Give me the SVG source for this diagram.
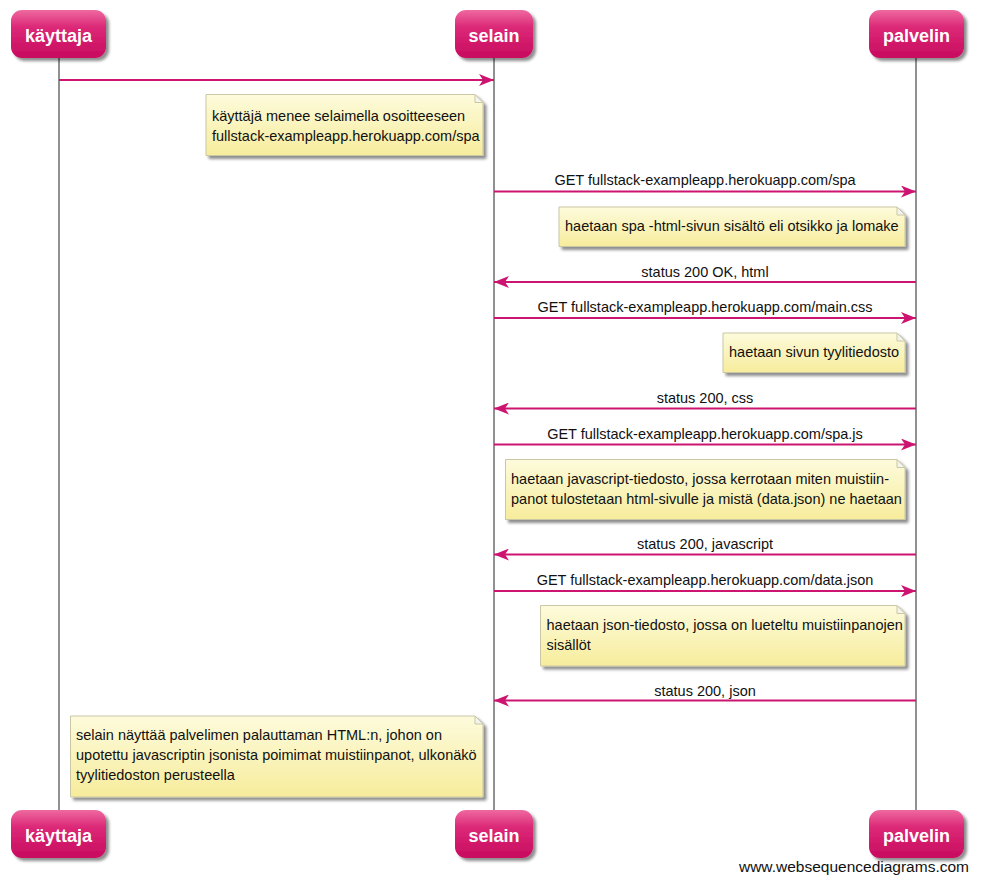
<svg xmlns="http://www.w3.org/2000/svg" width="985" height="896" viewBox="0 0 985 896">
<defs>
<linearGradient id="actorGrad" x1="0" y1="0" x2="0" y2="1">
<stop offset="0" stop-color="#ee6aa0"/>
<stop offset="0.35" stop-color="#dc2a78"/>
<stop offset="1" stop-color="#c80a5e"/>
</linearGradient>
<linearGradient id="noteGrad" x1="0" y1="0" x2="0" y2="1">
<stop offset="0" stop-color="#fdfbdc"/>
<stop offset="1" stop-color="#f7ec9c"/>
</linearGradient>
<filter id="shadow" x="-10%" y="-10%" width="130%" height="140%">
<feGaussianBlur in="SourceAlpha" stdDeviation="1.5"/>
<feOffset dx="3" dy="3" result="b"/>
<feComponentTransfer><feFuncA type="linear" slope="0.45"/></feComponentTransfer>
<feMerge><feMergeNode/><feMergeNode in="SourceGraphic"/></feMerge>
</filter>
<marker id="arrow" viewBox="0 0 15 12" refX="15" refY="6" markerWidth="15" markerHeight="12" markerUnits="userSpaceOnUse" orient="auto">
<path d="M0,0 L15,6 L0,12 L4,6 Z" fill="#cc1470"/>
</marker>
</defs>
<style>
.life{stroke:#222;stroke-width:1;fill:none}
.actor{fill:url(#actorGrad);filter:url(#shadow)}
.atext{font-family:"Liberation Sans",Arial,sans-serif;font-weight:bold;font-size:18px;fill:#fff;text-anchor:middle}
.msg{stroke:#cc1470;stroke-width:2;fill:none;marker-end:url(#arrow)}
.lbl{font-family:"Liberation Sans",Arial,sans-serif;font-size:14.5px;fill:#111;text-anchor:middle}
.note{fill:url(#noteGrad);stroke:#c9c7a4;stroke-width:1;filter:url(#shadow)}
.fold{fill:#f4f4ee;stroke:#c9c7a4;stroke-width:1}
.ntext{font-family:"Liberation Sans",Arial,sans-serif;font-size:14.5px;fill:#111}
.wm{font-family:"Liberation Sans",Arial,sans-serif;font-size:15.5px;fill:#111;text-anchor:end}
</style>
<rect width="985" height="896" fill="#fff"/>
<g id="lifelines">
<line class="life" x1="59" y1="57" x2="59" y2="811"/>
<line class="life" x1="494" y1="57" x2="494" y2="811"/>
<line class="life" x1="916" y1="57" x2="916" y2="811"/>
</g>
<g id="kayttaja-top"><rect class="actor" x="11" y="10" width="95" height="48" rx="11"/><text class="atext" x="58.5" y="42">käyttaja</text></g>
<g id="selain-top"><rect class="actor" x="455" y="10" width="78" height="48" rx="11"/><text class="atext" x="494" y="42">selain</text></g>
<g id="palvelin-top"><rect class="actor" x="869" y="10" width="95" height="48" rx="11"/><text class="atext" x="916.5" y="42">palvelin</text></g>
<g id="kayttaja-bottom"><rect class="actor" x="11" y="810" width="95" height="48" rx="11"/><text class="atext" x="58.5" y="842">käyttaja</text></g>
<g id="selain-bottom"><rect class="actor" x="455" y="810" width="78" height="48" rx="11"/><text class="atext" x="494" y="842">selain</text></g>
<g id="palvelin-bottom"><rect class="actor" x="869" y="810" width="95" height="48" rx="11"/><text class="atext" x="916.5" y="842">palvelin</text></g>
<g id="connectors">
<line class="msg" x1="59" y1="80" x2="494" y2="80"/>
<line class="msg" x1="494" y1="191.5" x2="916" y2="191.5"/>
<text class="lbl" x="705" y="185">GET fullstack-exampleapp.herokuapp.com/spa</text>
<line class="msg" x1="916" y1="282" x2="494" y2="282"/>
<text class="lbl" x="705" y="276.5">status 200 OK, html</text>
<line class="msg" x1="494" y1="318" x2="916" y2="318"/>
<text class="lbl" x="705" y="312">GET fullstack-exampleapp.herokuapp.com/main.css</text>
<line class="msg" x1="916" y1="408.5" x2="494" y2="408.5"/>
<text class="lbl" x="705" y="403">status 200, css</text>
<line class="msg" x1="494" y1="444.5" x2="916" y2="444.5"/>
<text class="lbl" x="705" y="438.5">GET fullstack-exampleapp.herokuapp.com/spa.js</text>
<line class="msg" x1="916" y1="554.5" x2="494" y2="554.5"/>
<text class="lbl" x="705" y="549">status 200, javascript</text>
<line class="msg" x1="494" y1="591" x2="916" y2="591"/>
<text class="lbl" x="705" y="585">GET fullstack-exampleapp.herokuapp.com/data.json</text>
<line class="msg" x1="916" y1="700.5" x2="494" y2="700.5"/>
<text class="lbl" x="705" y="695.5">status 200, json</text>
</g>
<g id="note1"><path class="note" d="M206,94.5 H475 L483,102.5 V155.5 H206 Z"/><path class="fold" d="M475,94.5 V102.5 H483 Z"/>
<text class="ntext" x="212" y="120.5">käyttäjä menee selaimella osoitteeseen</text><text class="ntext" x="212" y="140.5">fullstack-exampleapp.herokuapp.com/spa</text></g>
<g id="note2"><path class="note" d="M559,207 H897 L905,215 V246.5 H559 Z"/><path class="fold" d="M897,207 V215 H905 Z"/>
<text class="ntext" x="565" y="230.5">haetaan spa -html-sivun sisältö eli otsikko ja lomake</text></g>
<g id="note3"><path class="note" d="M723,333 H897 L905,341 V372.5 H723 Z"/><path class="fold" d="M897,333 V341 H905 Z"/>
<text class="ntext" x="729" y="356.5">haetaan sivun tyylitiedosto</text></g>
<g id="note4"><path class="note" d="M505.5,459.5 H897 L905,467.5 V519.5 H505.5 Z"/><path class="fold" d="M897,459.5 V467.5 H905 Z"/>
<text class="ntext" x="511" y="483.5">haetaan javascript-tiedosto, jossa kerrotaan miten muistiin-</text><text class="ntext" x="511" y="503.5">panot tulostetaan html-sivulle ja mistä (data.json) ne haetaan</text></g>
<g id="note5"><path class="note" d="M540.5,605.5 H897 L905,613.5 V666 H540.5 Z"/><path class="fold" d="M897,605.5 V613.5 H905 Z"/>
<text class="ntext" x="546.5" y="630">haetaan json-tiedosto, jossa on lueteltu muistiinpanojen</text><text class="ntext" x="546.5" y="650">sisällöt</text></g>
<g id="note6"><path class="note" d="M70.5,716 H475 L483,724 V797 H70.5 Z"/><path class="fold" d="M475,716 V724 H483 Z"/>
<text class="ntext" x="76" y="740">selain näyttää palvelimen palauttaman HTML:n, johon on</text><text class="ntext" x="76" y="760">upotettu javascriptin jsonista poimimat muistiinpanot, ulkonäkö</text><text class="ntext" x="76" y="780">tyylitiedoston perusteella</text></g>
<text class="wm" x="969" y="872">www.websequencediagrams.com</text>
</svg>
